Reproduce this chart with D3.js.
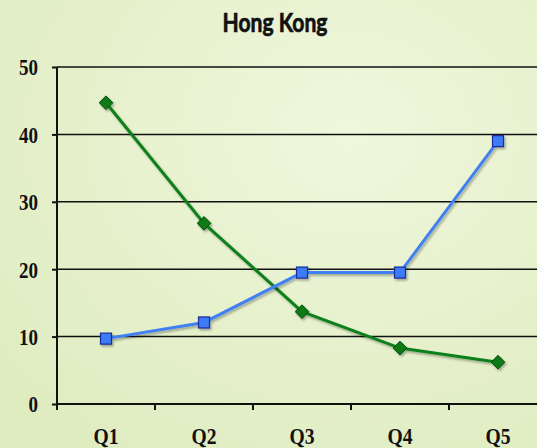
<!DOCTYPE html>
<html>
<head>
<meta charset="utf-8">
<script src="https://cdn.jsdelivr.net/npm/d3@7"></script>
<style>
  body { margin: 0; }
  svg text { font-weight: bold; }
</style>
</head>
<body>
<svg id="chart"></svg>
<script>
// données
const quarters = ["Q1", "Q2", "Q3", "Q4", "Q5"];
const greenSeries = [44.7, 26.8, 13.7, 8.3, 6.2];
const blueSeries = [9.7, 12.1, 19.5, 19.5, 39.0];
const yTicks = [0, 10, 20, 30, 40, 50];
const title = "Hong Kong";

const W = 537, H = 448;
const margin = {top: 67, left: 57, bottom: 44};
const labelFont = "'Liberation Serif', serif";

const svg = d3.select("#chart").attr("width", W).attr("height", H);

// fond dégradé vert clair
const defs = svg.append("defs");
const grad = defs.append("radialGradient").attr("id", "bg")
  .attr("cx", "65%").attr("cy", "30%").attr("r", "85%");
grad.append("stop").attr("offset", "0%").attr("stop-color", "#eff7dc");
grad.append("stop").attr("offset", "100%").attr("stop-color", "#dfecc0");
const shadow = defs.append("filter").attr("id", "shadow")
  .attr("x", "-20%").attr("y", "-20%").attr("width", "140%").attr("height", "140%");
shadow.append("feDropShadow").attr("dx", 1.5).attr("dy", 2).attr("stdDeviation", 1)
  .attr("flood-color", "#000").attr("flood-opacity", 0.3);

svg.append("rect").attr("width", W).attr("height", H).attr("fill", "url(#bg)");

const x = d3.scaleBand().domain(quarters).range([margin.left, margin.left + 5 * 98]);
const y = d3.scaleLinear().domain([0, 50]).range([H - margin.bottom, margin.top]);

// grille
svg.append("g").selectAll("line")
  .data(yTicks.slice(1))
  .join("line")
  .attr("x1", margin.left).attr("x2", W)
  .attr("y1", d => y(d)).attr("y2", d => y(d))
  .attr("stroke", "#111").attr("stroke-width", 1.5);

// axe Y
const yAxis = svg.append("g").attr("transform", `translate(${margin.left},0)`)
  .call(d3.axisLeft(y).tickValues(yTicks).tickSize(5).tickPadding(14));
yAxis.select(".domain").attr("stroke", "#111").attr("stroke-width", 2).attr("d", `M0,${y(0)}V${y(50)}`);
yAxis.selectAll(".tick line").attr("stroke", "#111").attr("stroke-width", 2);
yAxis.selectAll("text").attr("font-size", 24).attr("font-family", labelFont).attr("fill", "#111")
  .attr("dy", "0.33em").attr("x", -19)
  .attr("textLength", d => String(d).length * 9.5).attr("lengthAdjust", "spacingAndGlyphs");

// axe X
const xAxis = svg.append("g").attr("transform", `translate(0,${y(0)})`)
  .call(d3.axisBottom(x).tickSize(0).tickPadding(24));
xAxis.select(".domain").attr("stroke", "#111").attr("stroke-width", 2).attr("d", `M${margin.left},0H${W}`);
xAxis.selectAll("text").attr("font-size", 24).attr("font-family", labelFont).attr("fill", "#111")
  .attr("dy", 0).attr("y", 40)
  .attr("textLength", 25).attr("lengthAdjust", "spacingAndGlyphs");
svg.append("g").selectAll("line")
  .data(quarters.map(q => x(q)).concat([x("Q5") + x.bandwidth()]))
  .join("line")
  .attr("x1", d => d).attr("x2", d => d)
  .attr("y1", y(0)).attr("y2", y(0) + 6)
  .attr("stroke", "#111").attr("stroke-width", 2);

const cx = q => x(q) + x.bandwidth() / 2;
const line = d3.line().x((d, i) => cx(quarters[i])).y(d => y(d));

// série verte (losanges)
const gGreen = svg.append("g").attr("filter", "url(#shadow)");
gGreen.append("path").datum(greenSeries).attr("d", line)
  .attr("fill", "none").attr("stroke", "#11801a").attr("stroke-width", 3);
gGreen.selectAll("path.pt").data(greenSeries).join("path").attr("class", "pt")
  .attr("transform", (d, i) => `translate(${cx(quarters[i])},${y(d)})`)
  .attr("d", d3.symbol(d3.symbolDiamond2, 120))
  .attr("fill", "#0b7a14").attr("stroke", "#064b0a").attr("stroke-width", 1);

// série bleue (carrés)
const gBlue = svg.append("g").attr("filter", "url(#shadow)");
gBlue.append("path").datum(blueSeries).attr("d", line)
  .attr("fill", "none").attr("stroke", "#3f80f2").attr("stroke-width", 3);
gBlue.selectAll("rect").data(blueSeries).join("rect")
  .attr("x", (d, i) => cx(quarters[i]) - 5.5).attr("y", d => y(d) - 5.5)
  .attr("width", 11).attr("height", 11)
  .attr("fill", "#3d7cf6").attr("stroke", "#1a2a9a").attr("stroke-width", 1.2);

// titre
svg.append("text").attr("x", 275).attr("y", 32).attr("text-anchor", "middle")
  .attr("font-family", "Lato, sans-serif").attr("font-weight", 900)
  .attr("font-size", 26).attr("fill", "#111")
  .attr("stroke", "#111").attr("stroke-width", 0.7)
  .attr("textLength", 105).attr("lengthAdjust", "spacingAndGlyphs")
  .text(title);
</script>
</body>
</html>
